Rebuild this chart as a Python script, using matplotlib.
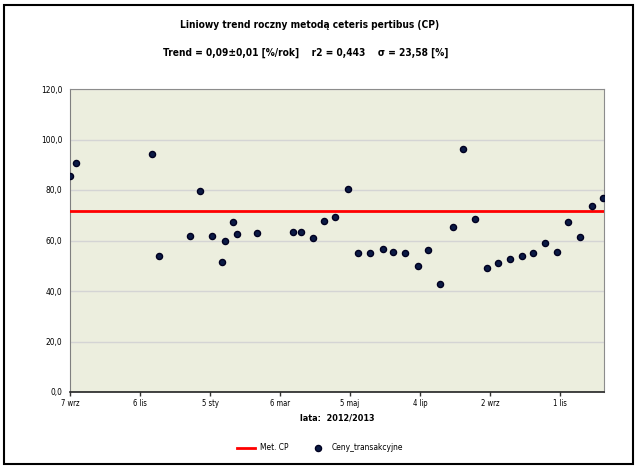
import matplotlib
matplotlib.use("Agg")
import matplotlib.pyplot as plt
import matplotlib.dates as mdates
from matplotlib.patches import Rectangle
import numpy as np
import datetime as dt

# daty transakcji i ceny
daty = ["2012-09-07", "2012-09-12", "2012-11-16", "2012-11-22", "2012-12-19",
        "2012-12-27", "2013-01-07", "2013-01-15", "2013-01-18", "2013-01-25",
        "2013-01-28", "2013-02-14", "2013-03-17", "2013-03-24", "2013-04-03",
        "2013-04-13", "2013-04-22", "2013-05-03", "2013-05-12", "2013-05-22",
        "2013-06-02", "2013-06-11", "2013-06-21", "2013-07-02", "2013-07-11",
        "2013-07-21", "2013-08-01", "2013-08-10", "2013-08-20", "2013-08-30",
        "2013-09-09", "2013-09-19", "2013-09-29", "2013-10-09", "2013-10-19",
        "2013-10-29", "2013-11-08", "2013-11-18", "2013-11-28", "2013-12-08"]
ceny = [85.7, 90.8, 94.4, 54.0, 61.9, 79.7, 61.9, 51.6, 59.9, 67.4,
        62.7, 63.1, 63.5, 63.5, 61.1, 67.8, 69.4, 80.5, 55.2, 55.2,
        56.8, 55.6, 55.2, 50.0, 56.4, 42.9, 65.5, 96.4, 68.6, 49.2,
        51.2, 52.8, 54.0, 55.2, 59.1, 55.6, 67.4, 61.5, 73.8, 76.9]

trend_daty = ["2012-09-07", "2013-12-09"]
trend_cp = [71.8, 71.8]

tick_daty = ["2012-09-07", "2012-11-06", "2013-01-05", "2013-03-06",
             "2013-05-05", "2013-07-04", "2013-09-02", "2013-11-01"]
tick_etykiety = ["7 wrz", "6 lis", "5 sty", "6 mar", "5 maj", "4 lip", "2 wrz", "1 lis"]

plt.rcParams["font.family"] = ["DejaVu Sans"]
plt.rcParams["font.stretch"] = "condensed"

def d(s):
    return dt.datetime.strptime(s, "%Y-%m-%d")

fig = plt.figure(figsize=(6.4, 4.68), dpi=100)
ax = fig.add_axes([70 / 640, 1 - 392 / 468, 534 / 640, 303 / 468])
ax.set_facecolor("#ECEEDE")

x = [d(s) for s in daty]
ax.plot([d(s) for s in trend_daty], trend_cp, color="#FF0000", lw=2, label="Met. CP", zorder=3)
ax.plot(x, ceny, "o", color="#0B1A45", markeredgecolor="#000020", markersize=4.4,
        label="Ceny_transakcyjne", zorder=4, clip_on=True)

ax.set_ylim(0, 120)
ax.set_yticks(np.arange(0, 121, 20))
ax.set_yticklabels([f"{v:.1f}".replace(".", ",") for v in np.arange(0, 121, 20)], fontsize=6)
ax.grid(axis="y", color="#D4D4D4", lw=1)
ax.set_axisbelow(True)

start = mdates.date2num(d("2012-09-07"))
ax.set_xlim(start, start + 457.7)
ax.set_xticks([d(s) for s in tick_daty])
ax.set_xticklabels(tick_etykiety, fontsize=5.5)
ax.tick_params(axis="x", length=3, width=1, color="#333333", pad=2)
ax.tick_params(axis="y", length=0, pad=5.5)

for k in ["top", "right"]:
    ax.spines[k].set_color("#8C8C8C")
ax.spines["left"].set_color("#7F7F7F")
ax.spines["bottom"].set_color("#222222")
ax.spines["bottom"].set_linewidth(1.2)

ax.set_xlabel("lata:  2012/2013", fontsize=6.5, fontweight="bold", labelpad=4)

fig.text(310 / 640, 1 - 25 / 468, "Liniowy trend roczny metodą ceteris pertibus (CP)",
         ha="center", va="center", fontsize=7.3, fontweight="bold")
fig.text(306 / 640, 1 - 53 / 468, "Trend = 0,09±0,01 [%/rok]    r2 = 0,443    σ = 23,58 [%]",
         ha="center", va="center", fontsize=7.3, fontweight="bold")

fig.legend(loc="center", bbox_to_anchor=(0.5, 1 - 448 / 468), ncol=2, frameon=False,
           fontsize=6, handlelength=2.2, columnspacing=2.5, handletextpad=0.5)

fig.patches.append(Rectangle((4 / 640, 1 - 464 / 468), 629 / 640, 459 / 468,
                             transform=fig.transFigure, fill=False, edgecolor="black", lw=1.5))

fig.savefig("out.png", dpi=100)
